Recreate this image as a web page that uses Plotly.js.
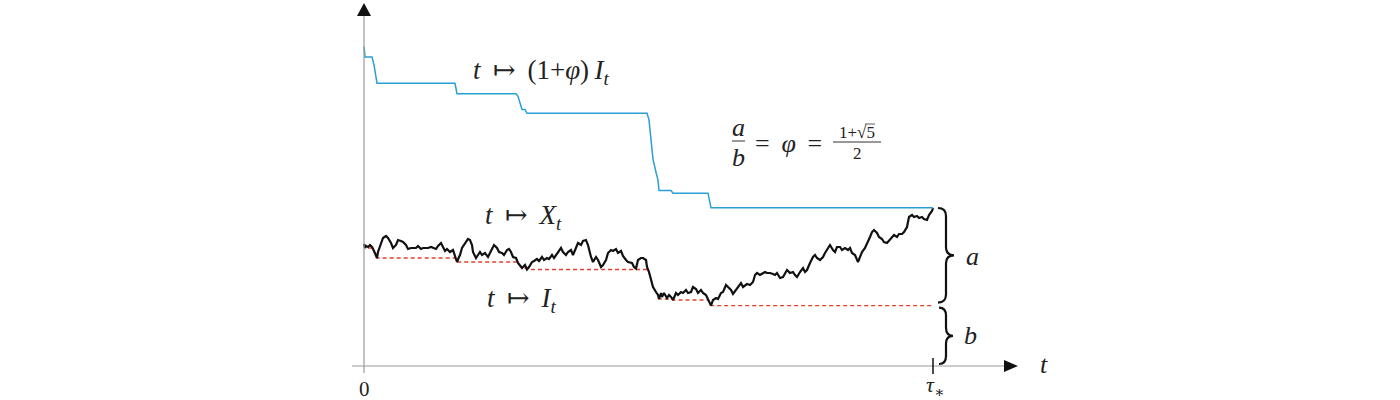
<!DOCTYPE html>
<html>
<head>
<meta charset="utf-8">
<script src="https://cdn.plot.ly/plotly-3.0.1.min.js"></script>
<style>
  html, body { margin: 0; padding: 0; background: #fff; }
  #chart { width: 1400px; height: 400px; }
</style>
</head>
<body>
<div id="chart"></div>
<script>
// path of X_t (t and X in the figure's own units, origin at the axes)
const tValues = [
  0, 1, 2, 4, 6, 8, 10, 11, 13, 14, 17, 19, 22, 24, 27, 29, 32, 34, 37, 39,
  42, 44, 47, 49, 52, 54, 57, 59, 62, 64, 67, 69, 72, 74, 77, 79, 81, 83, 86, 89,
  91, 93, 95, 96, 98, 101, 104, 106, 108, 109, 112, 114, 116, 118, 121, 124, 126, 128, 130, 133,
  135, 138, 140, 143, 145, 147, 149, 152, 154, 156, 158, 161, 163, 165, 168, 170, 173, 175, 178, 180,
  183, 185, 188, 190, 192, 194, 197, 199, 202, 204, 207, 209, 212, 214, 217, 219, 222, 224, 227, 229,
  232, 234, 237, 239, 242, 244, 247, 249, 252, 254, 257, 259, 262, 264, 268, 270, 272, 274, 277, 279,
  282, 283, 285, 287, 289, 292, 294, 295, 297, 298, 300, 303, 305, 307, 309, 312, 314, 317, 319, 322,
  324, 327, 329, 332, 334, 337, 339, 342, 344, 347, 349, 352, 354, 357, 359, 362, 364, 367, 369, 372,
  374, 377, 379, 383, 386, 389, 391, 393, 396, 399, 401, 403, 406, 409, 411, 413, 416, 419, 421, 423,
  426, 429, 431, 433, 436, 439, 441, 443, 446, 449, 451, 453, 456, 459, 461, 463, 466, 469, 471, 473,
  476, 478, 481, 484, 486, 488, 491, 494, 496, 498, 501, 504, 506, 508, 510, 513, 515, 518, 520, 523,
  525, 528, 530, 533, 535, 538, 540, 543, 545, 548, 550, 553, 555, 558, 560, 563, 565, 568, 569
];
const xValues = [
  122, 118, 120, 119, 121, 119, 115, 112, 108, 114, 123, 128, 130, 128, 123, 118, 121, 126, 125, 124,
  121, 117, 118, 118, 118, 120, 117, 118, 118, 118, 119, 118, 117, 120, 123, 119, 115, 117, 114, 116,
  111, 104, 109, 111, 118, 123, 127, 126, 121, 114, 108, 111, 114, 111, 113, 109, 114, 117, 121, 118,
  114, 113, 111, 116, 117, 114, 109, 108, 103, 100, 98, 101, 96.5, 99, 104, 105, 107, 105, 109, 106,
  108, 107, 111, 108, 111, 114, 118, 114, 111, 114, 116, 111, 118, 123, 121, 125, 126, 121, 109, 104,
  109, 106, 99, 101, 106, 113, 116, 115, 117, 113, 115, 110, 106, 104, 103, 99, 97.5, 106, 108, 108,
  106, 99, 94, 86, 79, 74, 71, 67, 73, 69, 73, 68, 71, 69, 66, 73, 71, 74, 73, 76,
  73, 74, 79, 77, 73, 76, 73, 71, 67, 60.4, 66, 68, 67, 73, 74, 81, 79, 76, 72, 76,
  79, 83, 79, 82, 81, 84, 91, 93, 91, 93, 94, 93, 93, 92, 91, 93, 88, 89, 93, 96,
  93, 94, 91, 89, 94, 98, 94, 96, 103, 109, 111, 108, 106, 109, 113, 116, 121, 116, 114, 119,
  119, 116, 118, 116, 118, 113, 111, 104, 109, 114, 118, 124, 129, 134, 136, 133, 129, 127, 124, 123,
  125, 128, 131, 129, 132, 132, 134, 139, 149, 151, 149, 150, 148, 149, 147, 146, 151, 155, 158
];

const PHI = (1 + Math.sqrt(5)) / 2;
const tauStar = 569;
const tickPositions = [0, tauStar];
const tickLabels = ['0', '<i>τ</i><sub>∗</sub>'];

// running minimum I_t and the curve (1+φ)I_t
const iValues = [];
let runMin = Infinity;
for (const v of xValues) {
  runMin = Math.min(runMin, v);
  iValues.push(runMin);
}
const upperValues = iValues.map(v => (1 + PHI) * v);
const iEnd = iValues[iValues.length - 1];
const xEnd = xValues[xValues.length - 1];

const SERIF = 'Liberation Serif, DejaVu Serif, serif';
const SP = '\u2009';

const traces = [
  {
    x: tValues, y: iValues, mode: 'lines', type: 'scatter',
    line: {color: '#e2402c', width: 1.3, dash: '4px,3px'}
  },
  {
    x: tValues, y: xValues, mode: 'lines', type: 'scatter',
    line: {color: '#111111', width: 2.2}
  },
  {
    x: tValues, y: upperValues, mode: 'lines', type: 'scatter',
    line: {color: '#2a9fd6', width: 1.5}
  }
];

function brace(x0, yTop, yBot, w) {
  const h = w / 2, q = Math.min(8, (yTop - yBot) / 6), yMid = (yTop + yBot) / 2;
  return `M ${x0},${yTop} Q ${x0 + h},${yTop} ${x0 + h},${yTop - q} ` +
    `L ${x0 + h},${yMid + q} Q ${x0 + h},${yMid} ${x0 + w},${yMid} ` +
    `Q ${x0 + h},${yMid} ${x0 + h},${yMid - q} ` +
    `L ${x0 + h},${yBot + q} Q ${x0 + h},${yBot} ${x0},${yBot}`;
}

const shapes = [
  // axes
  {type: 'line', x0: 0, x1: 0, y0: -7, y1: 354, line: {color: '#9a9a9a', width: 1.2}},
  {type: 'line', x0: -12, x1: 642, y0: 0, y1: 0, line: {color: '#9a9a9a', width: 1.2}},
  {type: 'path', path: 'M -7,350 L 0,363 L 7,350 Z', fillcolor: '#111', line: {width: 0}},
  {type: 'path', path: 'M 640,-6 L 654,0 L 640,6 Z', fillcolor: '#111', line: {width: 0}},
  // tick at tau*
  {type: 'line', x0: tauStar, x1: tauStar, y0: -8, y1: 8, line: {color: '#111', width: 1.5}},
  // braces for a and b
  {type: 'path', path: brace(574, xEnd, iEnd + 3, 16), line: {color: '#111', width: 2.2}},
  {type: 'path', path: brace(575, iEnd - 2, 2, 14), line: {color: '#111', width: 2.2}},
  // fraction bars
  {type: 'line', x0: 368, x1: 381, y0: 225, y1: 225, line: {color: '#333', width: 1}},
  {type: 'line', x0: 469, x1: 517, y0: 224, y1: 224, line: {color: '#333', width: 1}},
  {type: 'line', x0: 501, x1: 511, y0: 242, y1: 242, line: {color: '#333', width: 0.8}}
];

function label(x, y, text, size) {
  return {x: x, y: y, text: text, showarrow: false, xanchor: 'center', yanchor: 'middle',
    font: {family: SERIF, size: size, color: '#222'}};
}

const annotations = [
  label(177, 294, `<i>t</i>${SP} ↦ ${SP}(1+<i>φ</i>)${SP}<i>I</i><sub><i>t</i></sub>`, 27),
  label(159, 149, `<i>t</i>${SP} ↦ ${SP}<i>X</i><sub><i>t</i></sub>`, 27),
  label(157, 66, `<i>t</i>${SP} ↦ ${SP}<i>I</i><sub><i>t</i></sub>`, 27),
  label(374, 239, '<i>a</i>', 26),
  label(374, 209, '<i>b</i>', 26),
  label(424, 223, `=${SP} <i>φ</i> ${SP}=`, 26),
  label(493, 234, '1+√5', 17),
  label(493, 213, '2', 17),
  label(608, 110, '<i>a</i>', 26),
  label(606, 31, '<i>b</i>', 26),
  label(680, 2, '<i>t</i>', 26),
  label(tickPositions[0], -23, tickLabels[0], 21),
  label(tickPositions[1] + 2, -20, tickLabels[1], 22)
];

const layout = {
  width: 1400, height: 400,
  margin: {l: 0, r: 0, t: 0, b: 0},
  paper_bgcolor: '#ffffff', plot_bgcolor: '#ffffff',
  showlegend: false,
  xaxis: {range: [-364, 1036], visible: false, fixedrange: true},
  yaxis: {range: [-34, 366], visible: false, fixedrange: true},
  shapes: shapes,
  annotations: annotations
};

Plotly.newPlot('chart', traces, layout, {staticPlot: true, displayModeBar: false});
</script>
</body>
</html>
